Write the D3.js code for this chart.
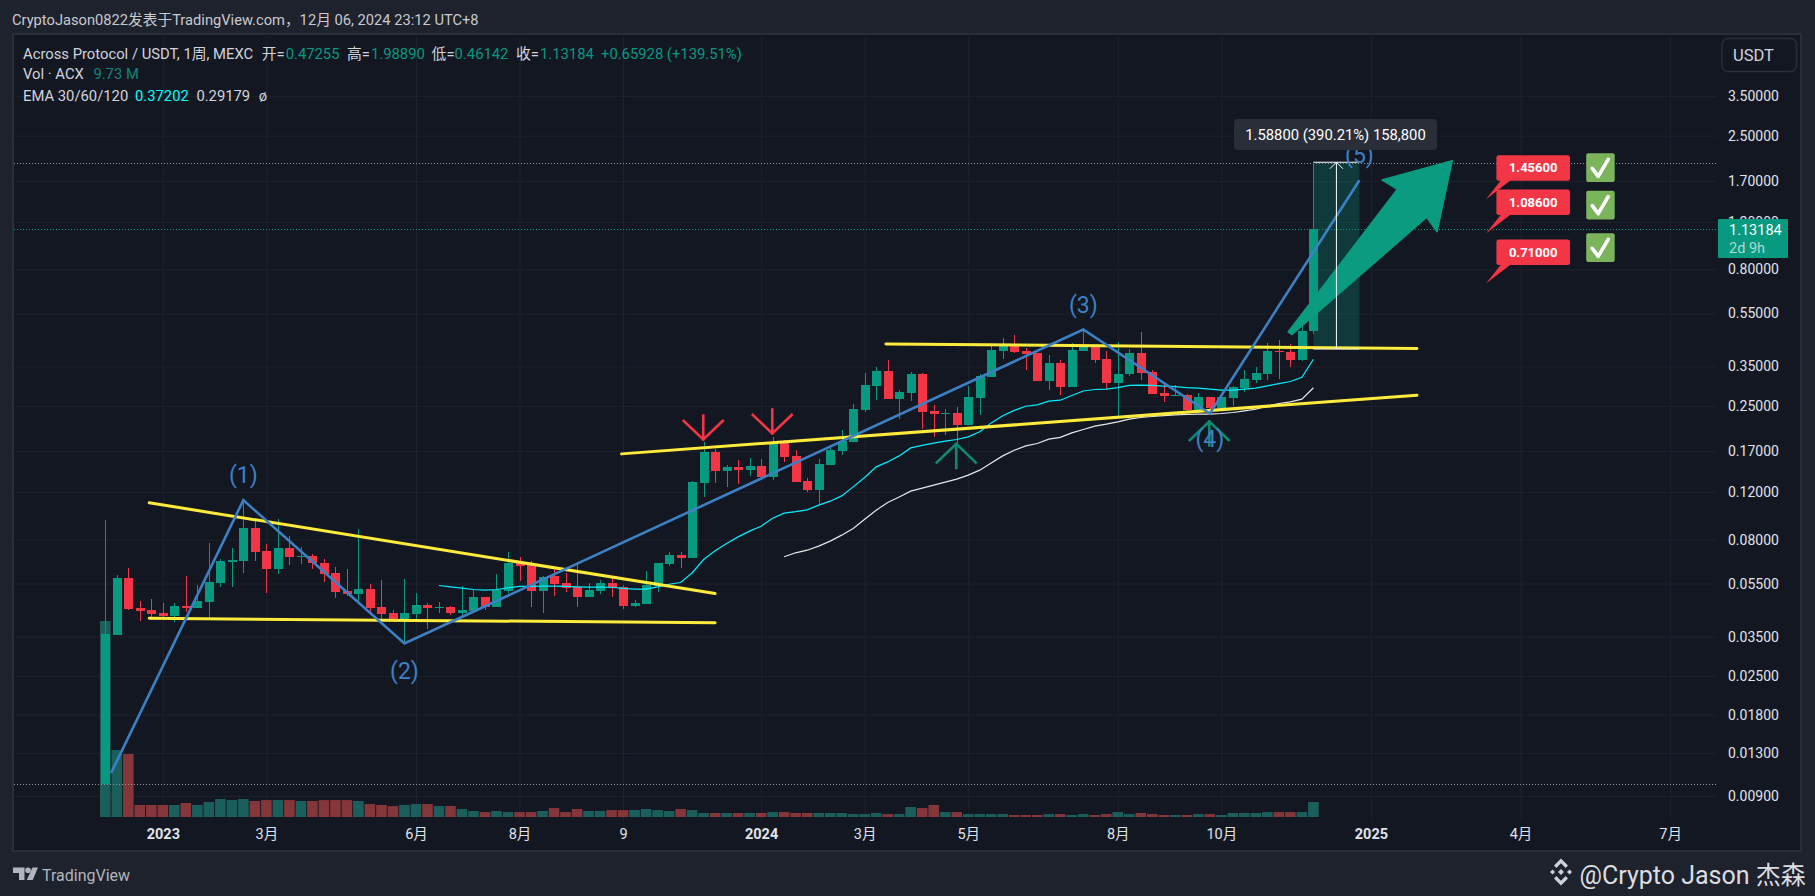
<!DOCTYPE html>
<html>
<head>
<meta charset="utf-8">
<title>ACX / USDT</title>
<script src="https://cdnjs.cloudflare.com/ajax/libs/d3/7.8.5/d3.min.js"></script>
<style>
  html, body { margin: 0; padding: 0; background: #1e222d; overflow: hidden; }
  svg { display: block; font-family: Roboto, "Noto Sans CJK SC", sans-serif; }
</style>
</head>
<body>
<div id="chart"></div>
<script>
// weekly candles, index 0 = first bar
var opens = [.0100,.0355,.0576,.0446,.0439,.0428,.0417,.0454,.0446,.0470,
  .0552,.0660,.0666,.0882,.0725,.0622,.0744,.0689,.0695,.0655,
  .0601,.0516,.0503,.0525,.0450,.0428,.0403,.0424,.0458,.0446,
  .0450,.0428,.0435,.0490,.0450,.0516,.0655,.0644,.0516,.0586,
  .0552,.0534,.0490,.0516,.0552,.0534,.0454,.0462,.0538,.0649,
  .0701,.0683,.1295,.1685,.1434,.1483,.1446,.1496,.1362,.1835,
  .1629,.1317,.1219,.1508,.1699,.1835,.2410,.2957,.3359,.2647,
  .2786,.3275,.2390,.2329,.2349,.2121,.2670,.3192,.3984,.4192,
  .3984,.3917,.3086,.3597,.2932,.3984,.4122,.3722,.3034,.3275,
  .3917,.3331,.2786,.2716,.2739,.2410,.2693,.2451,.2670,.2907,
  .3112,.3275,.3984,.3950,.3690,.47255];
var highs = [.0944,.0591,.0627,.0474,.0482,.0466,.0466,.0586,.0543,.0776,
  .0677,.0744,.1120,.0960,.0770,.0952,.0824,.0750,.0707,.0677,
  .0633,.0622,.0875,.0547,.0566,.0439,.0571,.0507,.0466,.0470,
  .0454,.0538,.0520,.0490,.0596,.0719,.0689,.0666,.0586,.0622,
  .0601,.0649,.0552,.0566,.0581,.0543,.0478,.0612,.0655,.0719,
  .0719,.1317,.1835,.1729,.1508,.1574,.1601,.1588,.1915,.1867,
  .1714,.1351,.1588,.1744,.2033,.2536,.3303,.3476,.3690,.2858,
  .3331,.3303,.2515,.2430,.2472,.2957,.3275,.4265,.4450,.4565,
  .4087,.3917,.3850,.3690,.4265,.4764,.4192,.3984,.4301,.4052,
  .4683,.3388,.3059,.2982,.2762,.2786,.2693,.2693,.2957,.3388,
  .3476,.4265,.4375,.4228,.4971,1.98890];
var lows = [.0100,.0355,.0439,.0399,.0403,.0406,.0396,.0431,.0446,.0410,
  .0534,.0534,.0601,.0666,.0507,.0596,.0644,.0649,.0622,.0557,
  .0486,.0494,.0466,.0424,.0399,.0399,.0331,.0396,.0373,.0428,
  .0420,.0417,.0428,.0439,.0450,.0507,.0562,.0450,.0428,.0494,
  .0511,.0450,.0490,.0503,.0490,.0443,.0450,.0462,.0511,.0638,
  .0627,.0683,.1148,.1295,.1251,.1284,.1374,.1328,.1328,.1547,
  .1306,.1198,.1073,.1508,.1643,.1835,.2369,.2624,.2647,.2232,
  .2602,.2050,.1915,.1948,.1789,.2121,.2310,.3192,.3722,.3917,
  .3388,.3086,.2858,.2739,.2932,.3984,.3597,.2882,.2290,.3219,
  .3112,.2762,.2580,.2716,.2369,.2390,.2369,.2390,.2493,.2810,
  .3034,.3112,.3138,.3476,.3659,.46142];
var closes = [.0358,.0576,.0443,.0435,.0424,.0417,.0454,.0446,.0474,.0557,
  .0666,.0672,.0882,.0719,.0622,.0744,.0689,.0695,.0655,.0596,
  .0511,.0503,.0525,.0446,.0424,.0403,.0428,.0458,.0446,.0450,
  .0428,.0439,.0490,.0450,.0520,.0655,.0638,.0516,.0581,.0547,
  .0529,.0490,.0520,.0552,.0529,.0454,.0466,.0543,.0655,.0701,
  .0683,.1306,.1685,.1434,.1483,.1446,.1496,.1362,.1835,.1615,
  .1306,.1219,.1521,.1714,.1851,.2430,.2982,.3359,.2647,.2810,
  .3275,.2369,.2329,.2349,.2121,.2693,.3219,.4018,.4228,.3950,
  .3883,.3086,.3597,.2932,.4018,.4122,.3690,.3034,.3275,.3917,
  .3303,.2762,.2716,.2739,.2410,.2693,.2451,.2693,.2932,.3138,
  .3303,.3984,.3950,.3690,.4723,1.13184];
// volume in millions
var volumes = [127.2,43.5,40.9,7.8,7.8,7.8,7.8,9.1,7.8,9.73,
  11.7,11,11.7,10.4,11,11,11,10.4,10.4,11,
  11,11,10.4,8.4,7.8,7.1,7.8,8.4,8.4,7.1,
  7.1,5.2,3.9,3.2,3.9,3.2,3.2,3.2,3.9,5.8,
  3.2,5.2,3.9,3.9,4.5,4.5,4.5,5.2,4.5,3.9,
  5.2,4.5,2.6,2.6,2.6,2.6,2.6,2.6,3.2,3.2,
  2.6,2.6,2.6,2.6,2.6,1.9,1.9,2.6,1.9,1.9,
  6.5,5.8,7.8,3.2,3.2,1.9,1.9,1.9,1.9,1.3,
  1.3,1.3,1.9,1.9,1.3,1.9,1.3,1.9,3.2,1.9,
  2.6,1.9,1.3,1.3,1.3,1.9,1.9,1.3,2.6,2.6,
  2.6,3.2,3.2,3.2,3.2,9.73];

// EMA lines, first value belongs to the start bar
var ema30Start = 29;
var ema30 = [.0541,.0535,.0529,.0523,.0520,.0523,.0530,.0537,.0537,.0538,.0538,
  .0537,.0535,.0534,.0534,.0533,.0528,.0525,.0525,.0535,.0547,
  .0555,.0602,.0675,.0727,.0774,.0819,.0860,.0897,.0960,.1002,
  .1015,.1031,.1073,.1110,.1161,.1254,.1359,.1487,.1551,.1633,
  .1748,.1785,.1820,.1851,.1878,.1920,.2004,.2163,.2300,.2406,
  .2493,.2521,.2602,.2624,.2732,.2839,.2875,.2882,.2919,.2977,
  .2982,.2977,.2957,.2944,.2919,.2907,.2882,.2858,.2858,.2882,
  .2907,.2964,.3024,.3078,.3192,.37202];
var ema60Start = 59;
var ema60 = [.0691,.0715,.0731,.0757,.0790,.0831,.0880,.0952,.1028,.1098,.1151,
  .1209,.1240,.1273,.1306,.1339,.1386,.1446,.1538,.1633,.1714,
  .1778,.1815,.1883,.1911,.1987,.2044,.2103,.2139,.2181,.2232,
  .2265,.2284,.2303,.2315,.2323,.2329,.2329,.2343,.2363,.2396,
  .2430,.2498,.2551,.2586,.2647,.29179];

var priceTicks = [3.5,2.5,1.7,1.2,.8,.55,.35,.25,.17,.12,.08,.055,.035,.025,.018,.013,.009];
var timeTickBars = [5,14,27,36,45,57,66,75,88,97,110,123,136];
var timeTickLabels = ['2023','3月','6月','8月','9','2024','3月','5月','8月','10月','2025','4月','7月'];

// elliott wave
var waveBars = [.5,12,26,85,96,109];
var wavePrices = [.01095,.1120,.0330,.4792,.2343,1.710];
var waveLabels = ['(1)','(2)','(3)','(4)','(5)'];
var waveLabelOffsets = [-25,27.5,-25,25.5,-25];

// yellow trend lines: start bar, start price, end bar, end price
var trendStartBars = [3.82,3.82,44.87,67.85];
var trendStartPrices = [.1095,.0409,.1661,.4239];
var trendEndBars = [53,53,114,114];
var trendEndPrices = [.0505,.0394,.2739,.4077];

var downArrowBars = [51.97,57.97];
var downArrowPrices = [.1878,.1977];
var upArrowBars = [73.96,95.95];
var upArrowPrices = [.1809,.2189];

// big green arrow outline
var bigArrowBars = [102.8,112.3,110.96,117.07,115.75,114.85,103.15];
var bigArrowPrices = [.4695,1.583,1.714,2.02,1.103,1.247,.4593];

// price range tool
var rangeBars = [105,109];
var rangePrices = [.406,1.994];
var rangeText = '1.58800 (390.21%) 158,800';

var targetPrices = [1.456,1.086,.71];
var targetBar = 120;
var checkTops = [153.3,190.7,233.3];

var W = 1815, H = 896;
var up = '#089981', down = '#f23645';
var upVol = '#1b5f5d', downVol = '#84363a';
var gridCol = '#1e222d', waveCol = '#3d81c4', yellow = '#ffeb3b', textCol = '#d1d4dc', axisCol = '#e0e3eb';

var x = d3.scaleLinear().domain([0, 105]).range([105.3, 1313.4]);
var y = d3.scaleLog().domain([.009, 3.5]).range([796, 96.2]);
var v = d3.scaleLinear().domain([0, 127.2]).range([817, 621]);

var svg = d3.select('#chart').append('svg').attr('width', W).attr('height', H);

svg.append('rect').attr('width', W).attr('height', H).attr('fill', '#1e222d');
svg.append('rect').attr('x', 13).attr('y', 34).attr('width', 1788).attr('height', 817)
  .attr('fill', '#131722').attr('stroke', '#2a2e39').attr('stroke-width', 2);

// grid
svg.append('g').attr('transform', 'translate(0,34)')
  .call(d3.axisBottom(x).tickValues(timeTickBars).tickSize(788).tickFormat(''))
  .call(function (g) {
    g.select('.domain').remove();
    g.selectAll('text').remove();
    g.selectAll('line').attr('stroke', gridCol);
  });
svg.append('g').attr('transform', 'translate(14,0)')
  .call(d3.axisRight(y).tickValues(priceTicks).tickSize(1702).tickFormat(''))
  .call(function (g) {
    g.select('.domain').remove();
    g.selectAll('text').remove();
    g.selectAll('line').attr('stroke', gridCol);
  });

// volume
svg.append('g').selectAll('rect').data(volumes).enter().append('rect')
  .attr('x', function (d, i) { return x(i) - 5.3; })
  .attr('width', 10.6)
  .attr('y', function (d) { return v(d); })
  .attr('height', function (d) { return v(0) - v(d); })
  .attr('fill', function (d, i) { return closes[i] >= opens[i] ? upVol : downVol; });

// high, low and last price lines
function dotted(price, col) {
  svg.append('line').attr('x1', 14).attr('x2', 1716)
    .attr('y1', Math.round(y(price)) + .5).attr('y2', Math.round(y(price)) + .5)
    .attr('stroke', col).attr('stroke-width', 1).attr('stroke-dasharray', '1 2');
}
dotted(highs[105], '#9598a1');
dotted(lows[0], '#9598a1');
dotted(closes[105], up);

// candles
var candles = svg.append('g').attr('shape-rendering', 'crispEdges').selectAll('g')
  .data(opens).enter().append('g')
  .attr('fill', function (d, i) { return closes[i] >= opens[i] ? up : down; });
candles.append('rect')
  .attr('x', function (d, i) { return Math.round(x(i)); })
  .attr('width', 1)
  .attr('y', function (d, i) { return y(highs[i]); })
  .attr('height', function (d, i) { return y(lows[i]) - y(highs[i]); });
candles.append('rect')
  .attr('x', function (d, i) { return Math.round(x(i)) - 4; })
  .attr('width', 9)
  .attr('y', function (d, i) { return Math.min(y(opens[i]), y(closes[i])); })
  .attr('height', function (d, i) { return Math.max(1, Math.abs(y(opens[i]) - y(closes[i]))); });

// EMA
function emaLine(values, start, col, w) {
  var line = d3.line()
    .x(function (d, i) { return x(start + i); })
    .y(function (d) { return y(d); });
  svg.append('path').attr('d', line(values)).attr('fill', 'none')
    .attr('stroke', col).attr('stroke-width', w);
}
emaLine(ema30, ema30Start, '#00f0ff', 1.2);
emaLine(ema60, ema60Start, '#e8e8e8', 1.2);

// price range tool
var rx0 = x(rangeBars[0]), rx1 = x(rangeBars[1]);
var ry0 = y(rangePrices[0]), ry1 = y(rangePrices[1]);
svg.append('rect').attr('x', rx0).attr('y', ry1).attr('width', rx1 - rx0).attr('height', ry0 - ry1)
  .attr('fill', up).attr('fill-opacity', .27);

// yellow trend lines
svg.append('g').selectAll('line').data(trendStartBars).enter().append('line')
  .attr('x1', function (d) { return x(d); })
  .attr('y1', function (d, i) { return y(trendStartPrices[i]); })
  .attr('x2', function (d, i) { return x(trendEndBars[i]); })
  .attr('y2', function (d, i) { return y(trendEndPrices[i]); })
  .attr('stroke', yellow).attr('stroke-width', 3).attr('stroke-linecap', 'round');

svg.append('line').attr('x1', rx0).attr('x2', rx1).attr('y1', ry0).attr('y2', ry0)
  .attr('stroke', '#e8f0e8').attr('stroke-width', 1);
svg.append('line').attr('x1', rx0).attr('x2', rx1).attr('y1', ry1).attr('y2', ry1)
  .attr('stroke', '#ffffff').attr('stroke-width', 1);

// wave
var waveLine = d3.line()
  .x(function (d) { return x(d); })
  .y(function (d, i) { return y(wavePrices[i]); });
svg.append('path').attr('d', waveLine(waveBars)).attr('fill', 'none')
  .attr('stroke', waveCol).attr('stroke-width', 2.6).attr('stroke-linejoin', 'miter');

// little arrows
function arrowMark(bar, price, dir, col) {
  var tx = x(bar), ty = y(price);
  var path = 'M' + tx + ',' + ty + 'V' + (ty + dir * 24) +
    'M' + (tx - 19.5) + ',' + (ty + dir * 18.6) + 'L' + tx + ',' + ty + 'L' + (tx + 19.5) + ',' + (ty + dir * 18.6);
  svg.append('path').attr('d', path).attr('fill', 'none').attr('stroke', col)
    .attr('stroke-width', 2.6).attr('stroke-linecap', 'square');
}
downArrowBars.forEach(function (b, i) { arrowMark(b, downArrowPrices[i], -1, down); });
upArrowBars.forEach(function (b, i) { arrowMark(b, upArrowPrices[i], 1, '#0d8a72'); });

// wave labels, (4) sits on top of its arrow
svg.append('g').selectAll('text').data(waveLabels).enter().append('text')
  .attr('x', function (d, i) { return x(waveBars[i + 1]); })
  .attr('y', function (d, i) { return y(wavePrices[i + 1]) + waveLabelOffsets[i]; })
  .attr('dy', '.35em')
  .attr('text-anchor', 'middle')
  .attr('fill', waveCol).attr('font-size', 23)
  .text(function (d) { return d; });

// big arrow
var bigArrow = d3.line()
  .x(function (d) { return x(d); })
  .y(function (d, i) { return y(bigArrowPrices[i]); });
svg.append('path').attr('d', bigArrow(bigArrowBars) + 'Z')
  .attr('fill', '#0a9b80').attr('stroke', '#0a9b80').attr('stroke-width', 1.5).attr('stroke-linejoin', 'round');

// range tool centre arrow and label
var rcx = (rx0 + rx1) / 2;
svg.append('path').attr('d', 'M' + rcx + ',' + ry0 + 'V' + ry1 + 'M' + (rcx - 6.5) + ',' + (ry1 + 6.5) + 'L' + rcx + ',' + ry1 + 'L' + (rcx + 6.5) + ',' + (ry1 + 6.5))
  .attr('fill', 'none').attr('stroke', '#ffffff').attr('stroke-width', 1);
svg.append('rect').attr('x', 1234).attr('y', 119).attr('width', 203).attr('height', 31).attr('rx', 4)
  .attr('fill', '#2a2e39');
svg.append('text').attr('x', 1335.5).attr('y', 134.5).attr('dy', '.35em').attr('text-anchor', 'middle')
  .attr('fill', '#ffffff').attr('font-size', 14.8).text(rangeText);

// target callouts
targetPrices.forEach(function (p, i) {
  var tx = x(targetBar), ty = y(p);
  var bx = tx + 10.4, by = ty - 44, bw = 73.6, bh = 25.5;
  svg.append('path')
    .attr('d', 'M' + tx + ',' + ty + 'L' + (bx + 5) + ',' + (by + bh - 1) + 'H' + (bx + 15) + 'Z')
    .attr('fill', down);
  svg.append('rect').attr('x', bx).attr('y', by).attr('width', bw).attr('height', bh).attr('rx', 2.5).attr('fill', down);
  svg.append('text').attr('x', bx + bw / 2).attr('y', by + bh / 2).attr('dy', '.35em').attr('text-anchor', 'middle')
    .attr('fill', '#ffffff').attr('font-size', 13).attr('font-weight', 700)
    .text(d3.format('.5f')(p));
  // green tick box
  var cx = 1586.2, cy = checkTops[i];
  svg.append('rect').attr('x', cx).attr('y', cy).attr('width', 28.5).attr('height', 28.7).attr('rx', 2).attr('fill', '#7ab55c');
  svg.append('path')
    .attr('d', 'M' + (cx + 6) + ',' + (cy + 15) + 'L' + (cx + 12) + ',' + (cy + 23) + 'L' + (cx + 22) + ',' + (cy + 6))
    .attr('fill', 'none').attr('stroke', '#ffffff').attr('stroke-width', 3.6).attr('stroke-linecap', 'round').attr('stroke-linejoin', 'round');
});

// axes
svg.append('g').attr('transform', 'translate(0,829)')
  .call(d3.axisBottom(x).tickValues(timeTickBars).tickSize(0).tickPadding(0)
    .tickFormat(function (d, i) { return timeTickLabels[i]; }))
  .call(function (g) {
    g.select('.domain').remove();
    g.selectAll('text').attr('fill', axisCol).attr('font-size', 14.5)
      .attr('font-family', 'Roboto, "Noto Sans CJK SC", sans-serif')
      .attr('font-weight', function (d, i) { return /^20/.test(timeTickLabels[i]) ? 700 : 400; });
  });
svg.append('g').attr('transform', 'translate(1728,0)')
  .call(d3.axisRight(y).tickValues(priceTicks).tickSize(0).tickPadding(0).tickFormat(d3.format('.5f')))
  .call(function (g) {
    g.select('.domain').remove();
    g.selectAll('text').attr('fill', axisCol).attr('font-size', 14)
      .attr('font-family', 'Roboto, "Noto Sans CJK SC", sans-serif');
  });

// last price badge
svg.append('rect').attr('x', 1718).attr('y', 219).attr('width', 70).attr('height', 39).attr('rx', 1).attr('fill', up);
svg.append('text').attr('x', 1729).attr('y', 230).attr('dy', '.35em').attr('fill', '#ffffff').attr('font-size', 14.5)
  .text(d3.format('.5f')(closes[105]));
svg.append('text').attr('x', 1729).attr('y', 248).attr('dy', '.35em').attr('fill', '#a8dcd2').attr('font-size', 14.5)
  .text('2d 9h');

// currency button
svg.append('rect').attr('x', 1722).attr('y', 38.5).attr('width', 74.5).attr('height', 33).attr('rx', 6)
  .attr('fill', '#131722').attr('stroke', '#2a2e39').attr('stroke-width', 1.5);
svg.append('text').attr('x', 1733).attr('y', 55).attr('dy', '.35em').attr('fill', textCol).attr('font-size', 16.5).text('USDT');

// legend
function label(tx, ty, str, col, size) {
  svg.append('text').attr('x', tx).attr('y', ty).attr('dy', '.35em')
    .attr('fill', col).attr('font-size', size || 14.8).text(str);
}
label(12, 19.5, 'CryptoJason0822发表于TradingView.com，12月 06, 2024 23:12 UTC+8', '#c8cad0', 14.7);
label(23, 53.5, 'Across Protocol / USDT, 1周, MEXC', textCol);
label(261.7, 53.5, '开=', textCol);
label(285.7, 53.5, '0.47255', up);
label(347, 53.5, '高=', textCol);
label(371, 53.5, '1.98890', up);
label(431.6, 53.5, '低=', textCol);
label(454.6, 53.5, '0.46142', up);
label(516, 53.5, '收=', textCol);
label(540, 53.5, '1.13184', up);
label(601, 53.5, '+0.65928 (+139.51%)', up);
label(23, 74, 'Vol · ACX', textCol);
label(93.4, 74, '9.73 M', '#0f8578');
label(23, 95.5, 'EMA 30/60/120', textCol);
label(135, 95.5, '0.37202', '#00ffff');
label(196.4, 95.5, '0.29179', textCol);
label(258.7, 95.5, 'ø', textCol);

// footer logos
svg.append('path').attr('d', 'M13,867.5h11.5v12.5h-5.5v-7h-6z').attr('fill', '#b2b5be');
svg.append('circle').attr('cx', 28).attr('cy', 870.2).attr('r', 2.8).attr('fill', '#b2b5be');
svg.append('path').attr('d', 'M32.5,867.5h5.5l-5.3,12.5h-6z').attr('fill', '#b2b5be');
label(42, 875, 'TradingView', '#b2b5be', 16);

var logo = svg.append('g').attr('transform', 'translate(1561,872)').attr('fill', '#cfd1d6');
logo.append('path').attr('d', 'M0,-3L3,0L0,3L-3,0Z');
logo.append('path').attr('d', 'M0,-13.5L7,-6.5L4.6,-4.1L0,-8.7L-4.6,-4.1L-7,-6.5Z');
logo.append('path').attr('d', 'M0,13.5L7,6.5L4.6,4.1L0,8.7L-4.6,4.1L-7,6.5Z');
logo.append('path').attr('d', 'M-8.5,-2.5L-6,0L-8.5,2.5L-11,0Z');
logo.append('path').attr('d', 'M8.5,-2.5L11,0L8.5,2.5L6,0Z');
label(1579.5, 875, '@Crypto Jason 杰森', '#dcdde0', 25);
</script>
</body>
</html>
